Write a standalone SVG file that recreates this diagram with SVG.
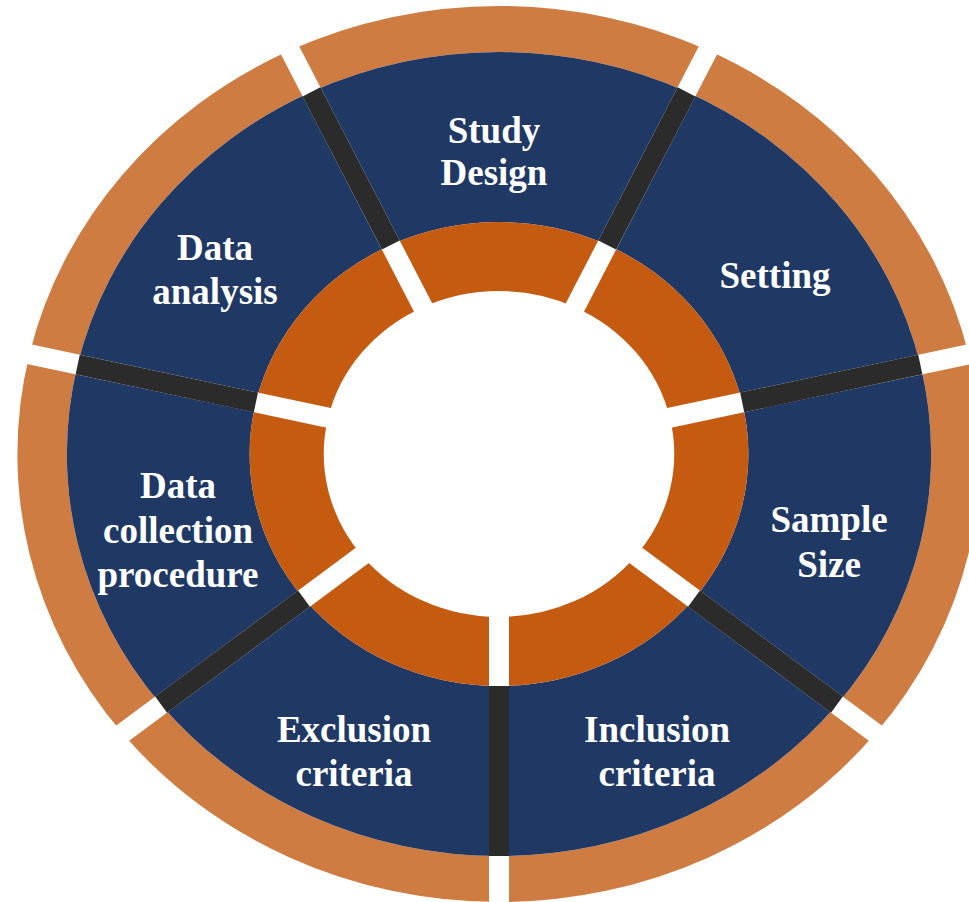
<svg xmlns="http://www.w3.org/2000/svg" width="969" height="902" viewBox="0 0 969 902">
<style>
.oo{fill:#CF7C42}
.bl{fill:#203864}
.io{fill:#C55A11}
.gap{stroke:#FFFFFF;stroke-width:20;fill:none}
.bar{stroke:#2B2B2B;stroke-width:20;fill:none}
.lbl{font-family:"Liberation Serif","Times New Roman",serif;font-weight:bold;font-size:37px;fill:#FFFFFF;text-anchor:middle}
</style>
<rect width="969" height="902" fill="#FFFFFF"/>
<g id="ring" transform="translate(499,454) scale(1.075,1)">
  <g id="node-exclusion">
    <path class="oo" d="M0,448 A448,448 0 0 1 -350.26,279.32 L-314.30,250.64 A402,402 0 0 0 0,402 Z"/>
    <path class="bl" d="M0,402 A402,402 0 0 1 -314.30,250.64 L-181.38,144.65 A232,232 0 0 0 0,232 Z"/>
    <path class="io" d="M0,232 A232,232 0 0 1 -181.38,144.65 L-127.44,101.63 A163,163 0 0 0 0,163 Z"/>
  </g>
  <g id="node-collection">
    <path class="oo" d="M-350.26,279.32 A448,448 0 0 1 -436.77,-99.69 L-391.92,-89.45 A402,402 0 0 0 -314.30,250.64 Z"/>
    <path class="bl" d="M-314.30,250.64 A402,402 0 0 1 -391.92,-89.45 L-226.18,-51.62 A232,232 0 0 0 -181.38,144.65 Z"/>
    <path class="io" d="M-181.38,144.65 A232,232 0 0 1 -226.18,-51.62 L-158.91,-36.27 A163,163 0 0 0 -127.44,101.63 Z"/>
  </g>
  <g id="node-analysis">
    <path class="oo" d="M-436.77,-99.69 A448,448 0 0 1 -194.38,-403.63 L-174.42,-362.19 A402,402 0 0 0 -391.92,-89.45 Z"/>
    <path class="bl" d="M-391.92,-89.45 A402,402 0 0 1 -174.42,-362.19 L-100.66,-209.03 A232,232 0 0 0 -226.18,-51.62 Z"/>
    <path class="io" d="M-226.18,-51.62 A232,232 0 0 1 -100.66,-209.03 L-70.72,-146.86 A163,163 0 0 0 -158.91,-36.27 Z"/>
  </g>
  <g id="node-design">
    <path class="oo" d="M-194.38,-403.63 A448,448 0 0 1 194.38,-403.63 L174.42,-362.19 A402,402 0 0 0 -174.42,-362.19 Z"/>
    <path class="bl" d="M-174.42,-362.19 A402,402 0 0 1 174.42,-362.19 L100.66,-209.03 A232,232 0 0 0 -100.66,-209.03 Z"/>
    <path class="io" d="M-100.66,-209.03 A232,232 0 0 1 100.66,-209.03 L70.72,-146.86 A163,163 0 0 0 -70.72,-146.86 Z"/>
  </g>
  <g id="node-setting">
    <path class="oo" d="M194.38,-403.63 A448,448 0 0 1 436.77,-99.69 L391.92,-89.45 A402,402 0 0 0 174.42,-362.19 Z"/>
    <path class="bl" d="M174.42,-362.19 A402,402 0 0 1 391.92,-89.45 L226.18,-51.62 A232,232 0 0 0 100.66,-209.03 Z"/>
    <path class="io" d="M100.66,-209.03 A232,232 0 0 1 226.18,-51.62 L158.91,-36.27 A163,163 0 0 0 70.72,-146.86 Z"/>
  </g>
  <g id="node-sample">
    <path class="oo" d="M436.77,-99.69 A448,448 0 0 1 350.26,279.32 L314.30,250.64 A402,402 0 0 0 391.92,-89.45 Z"/>
    <path class="bl" d="M391.92,-89.45 A402,402 0 0 1 314.30,250.64 L181.38,144.65 A232,232 0 0 0 226.18,-51.62 Z"/>
    <path class="io" d="M226.18,-51.62 A232,232 0 0 1 181.38,144.65 L127.44,101.63 A163,163 0 0 0 158.91,-36.27 Z"/>
  </g>
  <g id="node-inclusion">
    <path class="oo" d="M350.26,279.32 A448,448 0 0 1 0,448 L0,402 A402,402 0 0 0 314.30,250.64 Z"/>
    <path class="bl" d="M314.30,250.64 A402,402 0 0 1 0,402 L0,232 A232,232 0 0 0 181.38,144.65 Z"/>
    <path class="io" d="M181.38,144.65 A232,232 0 0 1 0,232 L0,163 A163,163 0 0 0 127.44,101.63 Z"/>
  </g>
</g>
<g id="connectors">
  <line class="gap" x1="499" y1="604" x2="499" y2="924"/>
  <line class="gap" x1="372.9" y1="547.5" x2="104.0" y2="747.0"/>
  <line class="gap" x1="341.8" y1="420.6" x2="6.4" y2="349.4"/>
  <line class="gap" x1="429.0" y1="318.9" x2="279.8" y2="30.5"/>
  <line class="gap" x1="569.0" y1="318.9" x2="718.2" y2="30.5"/>
  <line class="gap" x1="656.2" y1="420.6" x2="991.6" y2="349.4"/>
  <line class="gap" x1="625.1" y1="547.5" x2="894.0" y2="747.0"/>
  <line class="bar" x1="499" y1="686" x2="499" y2="856"/>
  <line class="bar" x1="304.0" y1="598.6" x2="161.1" y2="704.6"/>
  <line class="bar" x1="255.9" y1="402.4" x2="77.7" y2="364.5"/>
  <line class="bar" x1="390.8" y1="245.0" x2="311.5" y2="91.8"/>
  <line class="bar" x1="607.2" y1="245.0" x2="686.5" y2="91.8"/>
  <line class="bar" x1="742.2" y1="402.4" x2="920.3" y2="364.5"/>
  <line class="bar" x1="694.0" y1="598.6" x2="836.9" y2="704.6"/>
</g>
<g id="labels">
  <text class="lbl" x="494" y="143">Study</text>
  <text class="lbl" x="494" y="185">Design</text>
  <text class="lbl" x="775" y="288">Setting</text>
  <text class="lbl" x="829" y="532">Sample</text>
  <text class="lbl" x="829" y="577">Size</text>
  <text class="lbl" x="657" y="742">Inclusion</text>
  <text class="lbl" x="657" y="786">criteria</text>
  <text class="lbl" x="354" y="742">Exclusion</text>
  <text class="lbl" x="354" y="786">criteria</text>
  <text class="lbl" x="178" y="498">Data</text>
  <text class="lbl" x="178" y="543">collection</text>
  <text class="lbl" x="178" y="587">procedure</text>
  <text class="lbl" x="215" y="260">Data</text>
  <text class="lbl" x="215" y="304">analysis</text>
</g>
</svg>
